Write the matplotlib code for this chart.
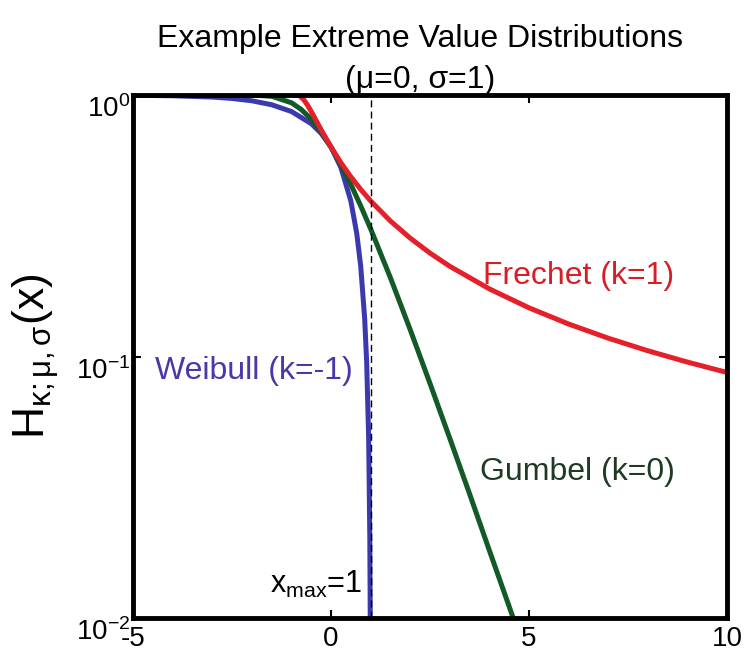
import math

import matplotlib
matplotlib.use("Agg")
import matplotlib.pyplot as plt
import matplotlib.ticker as mticker
from matplotlib.transforms import ScaledTranslation


# values (survival curves, log y axis)
gumbel_x = [-5, -3, -2, -1.5, -1, -0.75, -0.5, -0.25, 0, 0.25, 0.5, 0.75,
            1, 1.5, 2, 2.5, 3, 3.5, 4, 4.5, 4.8]
gumbel_y = [1.0, 1.0, 0.9994, 0.9887, 0.934, 0.8796, 0.8078, 0.7231, 0.6321,
            0.541, 0.4548, 0.3765, 0.3078, 0.2, 0.1266, 0.0788, 0.0486,
            0.0298, 0.0181, 0.01105, 0.0082]

weibull_x = [-5, -4, -3, -2.5, -2, -1.5, -1, -0.5, -0.25, 0, 0.25, 0.5, 0.65,
             0.75, 0.85, 0.9, 0.95, 0.98, 0.99, 0.995]
weibull_y = [0.9975, 0.9933, 0.9817, 0.9698, 0.9502, 0.9179, 0.8647, 0.7769,
             0.7135, 0.6321, 0.5276, 0.3935, 0.2953, 0.2212, 0.1393, 0.0952,
             0.0488, 0.0198, 0.00995, 0.00499]

frechet_x = [-1, -0.9, -0.8, -0.7, -0.6, -0.5, -0.4, -0.25, 0, 0.25, 0.5, 0.75,
             1, 1.5, 2, 2.5, 3, 4, 5, 6, 7, 8, 9, 10]
frechet_y = [1.0, 1.0, 0.9933, 0.9643, 0.9179, 0.8647, 0.8111, 0.7364, 0.6321,
             0.5507, 0.4866, 0.4353, 0.3935, 0.3297, 0.2835, 0.2485, 0.2212,
             0.1813, 0.1535, 0.1331, 0.1175, 0.1052, 0.0952, 0.0869]

x_ticks = [-5, 0, 5, 10]
y_ticks = [1e-2, 1e-1, 1e0]
x_max = 1

plt.rcParams['font.family'] = ['Liberation Sans', 'DejaVu Sans']
plt.rcParams['mathtext.fontset'] = 'custom'
plt.rcParams['mathtext.rm'] = 'Liberation Sans'
plt.rcParams['mathtext.it'] = 'Liberation Sans:italic'

fig = plt.figure(figsize=(7.44, 6.61), dpi=100)
ax = fig.add_axes([0.1788, 0.065, 0.7984, 0.7913])

ax.plot(weibull_x, weibull_y, color='#3a3aae', lw=3.6, solid_capstyle='butt')
ax.plot(gumbel_x, gumbel_y, color='#125a26', lw=3.6, solid_capstyle='butt')
ax.plot(frechet_x, frechet_y, color='#e4202a', lw=3.6, solid_capstyle='butt')
ax.axvline(x_max, color='black', lw=1.0, ls=(0, (5, 3)))

ax.set_yscale('log')
ax.set_xlim(-5, 10)
ax.set_ylim(1e-2, 1e0)
ax.set_xticks(x_ticks)
ax.set_yticks(y_ticks)
ax.yaxis.set_minor_locator(mticker.NullLocator())
ax.xaxis.set_major_formatter(mticker.FuncFormatter(lambda v, p: f"{v:g}"))
ax.yaxis.set_major_formatter(mticker.FuncFormatter(
    lambda v, p: r'$\mathregular{10^{%d}}$' % round(math.log10(v))))

ax.tick_params(direction='in', length=6, width=1.5, labelsize=20,
               top=True, right=True)
ax.tick_params(axis='x', pad=6)
ax.tick_params(axis='y', pad=2)
for s in ax.spines.values():
    s.set_linewidth(3.5)

# MATLAB puts the exponent labels a bit below the tick
shift = ScaledTranslation(0, -8 / 72, fig.dpi_scale_trans)
for lab in ax.get_yticklabels():
    lab.set_transform(lab.get_transform() + shift)

ax.set_ylabel(r'$\mathregular{H_{κ;μ,σ}(x)}$', fontsize=32)
ax.yaxis.set_label_coords(-0.12, 0.5)

# curve labels
ax.text(3.84, 0.203, 'Frechet (k=1)', color='#d81e24', fontsize=23,
        ha='left', va='center')
ax.text(-4.44, 0.088, 'Weibull (k=-1)', color='#4a38a8', fontsize=23,
        ha='left', va='center')
ax.text(8.69, 0.0363, 'Gumbel (k=0)', color='#1e3a22', fontsize=23,
        ha='right', va='center')
ax.text(-1.54, 0.0134, r'$\mathregular{x_{max}}$=1', color='black',
        fontsize=22, ha='left', va='center')

fig.text(0.565, 0.91, 'Example Extreme Value Distributions\n(μ=0, σ=1)',
         ha='center', va='center', fontsize=23, linespacing=1.45)

fig.savefig('out.png', dpi=100)
